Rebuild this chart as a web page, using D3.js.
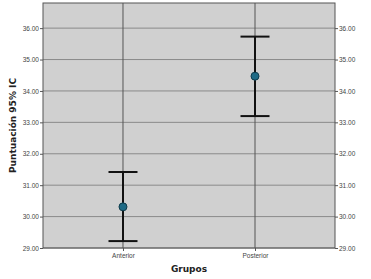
<!DOCTYPE html>
<html><head><meta charset="utf-8">
<script src="https://cdn.jsdelivr.net/npm/d3@7"></script>
<style>body{margin:0;background:#fff}svg{display:block}</style>
</head><body>
<script>
const categories = ["Anterior", "Posterior"];
const means = [30.31, 34.47];
const lower = [29.22, 33.2];
const upper = [31.42, 35.73];
const yTicks = [29, 30, 31, 32, 33, 34, 35, 36];

const W = 371, H = 279;
const L = 43, R = 335, T = 3, B = 248;
const svg = d3.select("body").append("svg").attr("width", W).attr("height", H);

const x = d3.scalePoint().domain(categories).range([L, R]).padding(0.606);
const y = d3.scaleLinear().domain([29, 36.8]).range([B, T]);

svg.append("rect").attr("x", L).attr("y", T).attr("width", R - L).attr("height", B - T)
  .attr("fill", "#d0d0d0");

// horizontal gridlines
svg.append("g").selectAll("line").data(yTicks).join("line")
  .attr("x1", L).attr("x2", R).attr("y1", d => y(d)).attr("y2", d => y(d))
  .attr("stroke", "#8a8a8a").attr("stroke-width", 1);
// vertical gridlines at categories
svg.append("g").selectAll("line").data(categories).join("line")
  .attr("x1", d => x(d)).attr("x2", d => x(d)).attr("y1", T).attr("y2", B)
  .attr("stroke", "#555").attr("stroke-width", 1);

svg.append("rect").attr("x", L).attr("y", T).attr("width", R - L).attr("height", B - T)
  .attr("fill", "none").attr("stroke", "#555").attr("stroke-width", 1);

const fmt = d3.format(".2f");
const axL = svg.append("g").attr("transform", `translate(${L},0)`)
  .call(d3.axisLeft(y).tickValues(yTicks).tickFormat(fmt).tickSize(3).tickPadding(1));
const axR = svg.append("g").attr("transform", `translate(${R},0)`)
  .call(d3.axisRight(y).tickValues(yTicks).tickFormat(fmt).tickSize(3).tickPadding(1));
const axB = svg.append("g").attr("transform", `translate(0,${B})`)
  .call(d3.axisBottom(x).tickSize(3).tickPadding(2));
[axL, axR, axB].forEach(a => {
  a.select(".domain").remove();
  a.selectAll("line").attr("stroke", "#555");
  a.selectAll("text").attr("fill", "#444").attr("font-family", "Liberation Sans, Arial, sans-serif").attr("font-size", 6.5);
});

// error bars
const g = svg.append("g");
categories.forEach((c, i) => {
  const cx = x(c);
  g.append("line").attr("x1", cx).attr("x2", cx).attr("y1", y(lower[i])).attr("y2", y(upper[i]))
    .attr("stroke", "#111").attr("stroke-width", 2);
  [lower[i], upper[i]].forEach(v => {
    g.append("line").attr("x1", cx - 14.5).attr("x2", cx + 14.5).attr("y1", y(v)).attr("y2", y(v))
      .attr("stroke", "#111").attr("stroke-width", 2);
  });
  g.append("circle").attr("cx", cx).attr("cy", y(means[i])).attr("r", 4)
    .attr("fill", "#1e6a85").attr("stroke", "#0d3a4a").attr("stroke-width", 1);
});

svg.append("text").attr("transform", `translate(16,${(T + B) / 2}) rotate(-90)`)
  .attr("text-anchor", "middle").attr("font-family", "DejaVu Sans, sans-serif").attr("font-weight", "bold")
  .attr("font-size", 9).attr("fill", "#222").text("Puntuación 95% IC");
svg.append("text").attr("x", 189).attr("y", 272)
  .attr("text-anchor", "middle").attr("font-family", "DejaVu Sans, sans-serif").attr("font-weight", "bold")
  .attr("font-size", 9).attr("fill", "#222").text("Grupos");
</script>
</body></html>
